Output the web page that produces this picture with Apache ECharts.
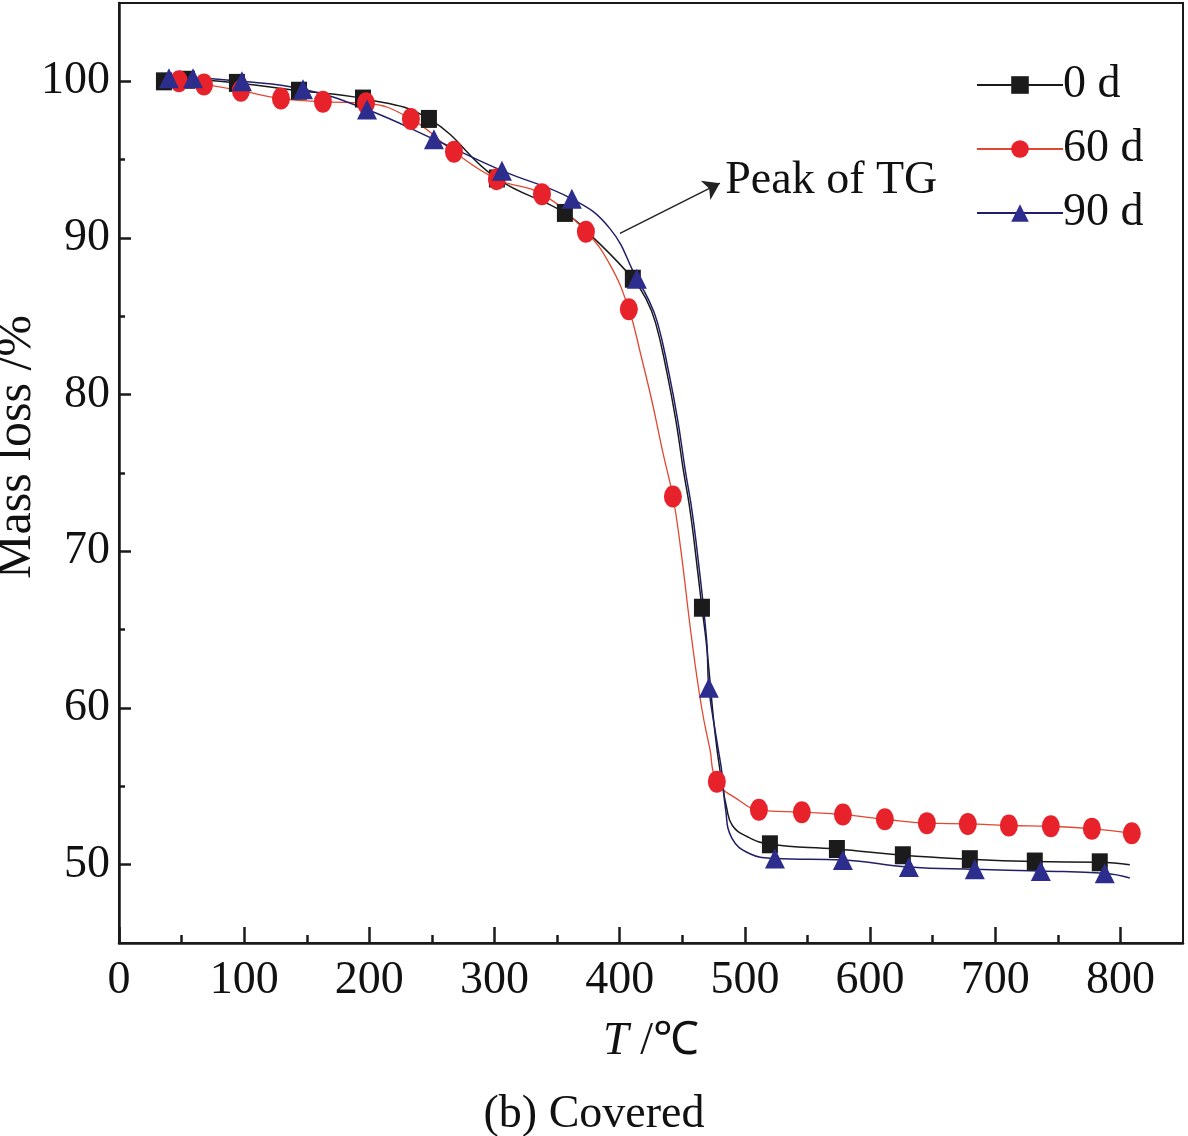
<!DOCTYPE html>
<html>
<head>
<meta charset="utf-8">
<script src="https://cdn.jsdelivr.net/npm/echarts@6/dist/echarts.min.js"></script>
<style>
  html, body { margin: 0; padding: 0; background: #fff; }
  #tg_chart { width: 1188px; height: 1136px; }
</style>
</head>
<body>
<div id="tg_chart"></div>
<script>

var xTicks = [0, 100, 200, 300, 400, 500, 600, 700, 800];
var xMinorTicks = [50, 150, 250, 350, 450, 550, 650, 750];
var yTicks = [50, 60, 70, 80, 90, 100];
var yMinorTicks = [55, 65, 75, 85, 95];

// 0 d : marked points, then points on the curve between markers
var temp0 = [35.9, 54.3, 94.2, 143.8, 194.9, 247.6, 301.9, 356.2, 410.5, 465.7, 520.0, 573.5, 626.2, 679.7, 731.6, 783.5];
var mass0 = [100.0, 100.1, 99.9, 99.4, 98.9, 97.6, 93.8, 91.6, 87.4, 66.4, 51.3, 51.0, 50.6, 50.35, 50.2, 50.15];
var temp0Curve = [381.8, 420.9, 428.6, 437.5, 445.0, 451.0, 455.5, 459.5, 469.0, 476.0, 480.5, 485.5, 490.0, 501.6, 807.5];
var mass0Curve = [89.8, 86.15, 84.6, 81.5, 78.3, 75.1, 73.0, 70.6, 64.3, 58.5, 55.8, 53.6, 52.5, 51.8, 50.0];

// 60 d
var temp60 = [47.9, 67.9, 97.4, 129.4, 162.9, 197.3, 233.2, 267.6, 301.9, 337.9, 373.0, 407.3, 442.5, 477.6, 511.2, 545.5, 578.3, 611.8, 645.4, 678.1, 710.9, 744.4, 777.2, 809.1];
var mass60 = [100.0, 99.8, 99.4, 98.9, 98.7, 98.6, 97.6, 95.5, 93.75, 92.8, 90.4, 85.45, 73.5, 55.3, 53.5, 53.35, 53.2, 52.9, 52.65, 52.6, 52.5, 52.45, 52.3, 52.0];
var temp60Curve = [392.2, 417.0, 426.0, 434.5, 448.5, 457.7, 465.5, 472.0, 493.6];
var mass60Curve = [88.3, 82.5, 79.5, 76.3, 70.3, 64.3, 60.0, 57.4, 54.2];

// 90 d
var temp90 = [39.9, 59.1, 98.2, 147.0, 198.1, 251.6, 305.9, 361.8, 413.7, 471.2, 524.0, 578.3, 631.0, 683.7, 736.4, 787.5];
var mass90 = [100.2, 100.2, 100.0, 99.5, 98.2, 96.3, 94.3, 92.5, 87.4, 61.3, 50.4, 50.3, 49.85, 49.7, 49.6, 49.45];
var temp90Curve = [392.2, 422.5, 430.2, 439.0, 446.5, 452.5, 457.0, 461.0, 469.5, 477.6, 481.8, 484.5, 489.6, 504.0, 807.5];
var mass90Curve = [90.6, 86.15, 84.6, 81.5, 78.3, 75.1, 73.0, 70.6, 64.3, 57.9, 55.8, 53.6, 51.7, 50.7, 49.15];

// arrow "Peak of TG"
var peakFrom = [400.2, 90.3];
var peakTo = [480.0, 93.5];

var serif = "'Liberation Serif', 'Times New Roman', serif";


function buildLine(t, m, tc, mc){
  var pts = [];
  for(var i = 0; i < t.length; i++){
    pts.push({value: [t[i], m[i]]});
  }
  for(var j = 0; j < tc.length; j++){
    pts.push({value: [tc[j], mc[j]], symbol: 'none'});
  }
  pts.sort(function(a, b){ return a.value[0] - b.value[0]; });
  return pts;
}


var tgChart = echarts.init(document.getElementById("tg_chart"));

var tgChartOption = {
  animation: false,

  title: {
    text: '(b) Covered',
    left: 'center',
    top: 1087,
    textStyle: {
      fontFamily: serif,
      fontSize: 46,
      fontWeight: 'normal',
      color: '#111'
    }
  },

  legend: {
    orient: 'vertical',
    left: 971,
    top: 57,
    itemWidth: 86,
    itemHeight: 22,
    itemGap: 18,
    textStyle: {
      fontFamily: serif,
      fontSize: 46,
      lineHeight: 46,
      color: '#111',
      padding: [0, 0, 0, -5]
    },
    data: ['0 d', '60 d', '90 d']
  },

  grid: {
    left: 119,
    right: 5,
    top: 3,
    bottom: 193,
    show: true,
    borderColor: '#1a1a1a',
    borderWidth: 2,
    outerBoundsMode: 'none'
  },

  xAxis: [
    {
      type: 'value',
      min: 0,
      max: 850,
      name: '{i|T} /℃',
      nameLocation: 'middle',
      nameGap: 76,
      nameMoveOverlap: false,
      nameTextStyle: {
        fontFamily: serif,
        fontSize: 46,
        color: '#111',
        rich: {
          i: { fontFamily: serif, fontSize: 46, fontStyle: 'italic', color: '#111' }
        }
      },
      splitLine: { show: false },
      axisLine: { show: true, lineStyle: { color: '#1a1a1a', width: 2.5 } },
      axisTick: {
        show: true,
        inside: true,
        length: 16,
        customValues: xTicks,
        lineStyle: { color: '#1a1a1a', width: 2.5 }
      },
      axisLabel: {
        customValues: xTicks,
        margin: 15,
        fontFamily: serif,
        fontSize: 46,
        color: '#111'
      }
    },
    {
      type: 'value',
      min: 0,
      max: 850,
      position: 'bottom',
      splitLine: { show: false },
      axisLine: { show: false },
      axisLabel: { show: false },
      axisTick: {
        show: true,
        inside: true,
        length: 8,
        customValues: xMinorTicks,
        lineStyle: { color: '#1a1a1a', width: 2.5 }
      }
    }
  ],

  yAxis: [
    {
      type: 'value',
      min: 45,
      max: 105,
      name: 'Mass loss /%',
      nameLocation: 'middle',
      nameRotate: 90,
      nameGap: 77,
      nameMoveOverlap: false,
      nameTextStyle: {
        fontFamily: serif,
        fontSize: 50,
        color: '#111',
        padding: [0, 0, 0, 52]
      },
      splitLine: { show: false },
      axisLine: { show: true, lineStyle: { color: '#1a1a1a', width: 2.5 } },
      axisTick: {
        show: true,
        inside: true,
        length: 12,
        customValues: yTicks,
        lineStyle: { color: '#1a1a1a', width: 2.5 }
      },
      axisLabel: {
        customValues: yTicks,
        margin: 9,
        fontFamily: serif,
        fontSize: 46,
        color: '#111'
      }
    },
    {
      type: 'value',
      min: 45,
      max: 105,
      position: 'left',
      splitLine: { show: false },
      axisLine: { show: false },
      axisLabel: { show: false },
      axisTick: {
        show: true,
        inside: true,
        length: 6,
        customValues: yMinorTicks,
        lineStyle: { color: '#1a1a1a', width: 2.5 }
      }
    }
  ],

  series: [
    {
      name: '0 d',
      type: 'line',
      smooth: 0.45,
      symbol: 'rect',
      symbolSize: [16, 18],
      showAllSymbol: true,
      lineStyle: { color: '#1a1a1a', width: 1.5 },
      itemStyle: { color: '#1b1b1b' },
      data: buildLine(temp0, mass0, temp0Curve, mass0Curve),
      markLine: {
        silent: true,
        symbol: ['none', 'arrow'],
        symbolSize: 16,
        lineStyle: { color: '#222', width: 1.5, type: 'solid' },
        label: {
          show: true,
          position: 'end',
          distance: 6,
          formatter: 'Peak of TG',
          fontFamily: serif,
          fontSize: 46,
          color: '#111'
        },
        data: [[{ coord: peakFrom }, { coord: peakTo }]]
      }
    },
    {
      name: '60 d',
      type: 'line',
      smooth: 0.45,
      symbol: 'circle',
      symbolSize: [18, 22],
      showAllSymbol: true,
      lineStyle: { color: '#e2472f', width: 1.3 },
      itemStyle: { color: '#e8222a' },
      data: buildLine(temp60, mass60, temp60Curve, mass60Curve)
    },
    {
      name: '90 d',
      type: 'line',
      smooth: 0.45,
      symbol: 'triangle',
      symbolSize: [20, 20],
      showAllSymbol: true,
      lineStyle: { color: '#20206a', width: 1.5 },
      itemStyle: { color: '#2d2d8e' },
      data: buildLine(temp90, mass90, temp90Curve, mass90Curve)
    }
  ]
};

tgChart.setOption(tgChartOption);

</script>
</body>
</html>
